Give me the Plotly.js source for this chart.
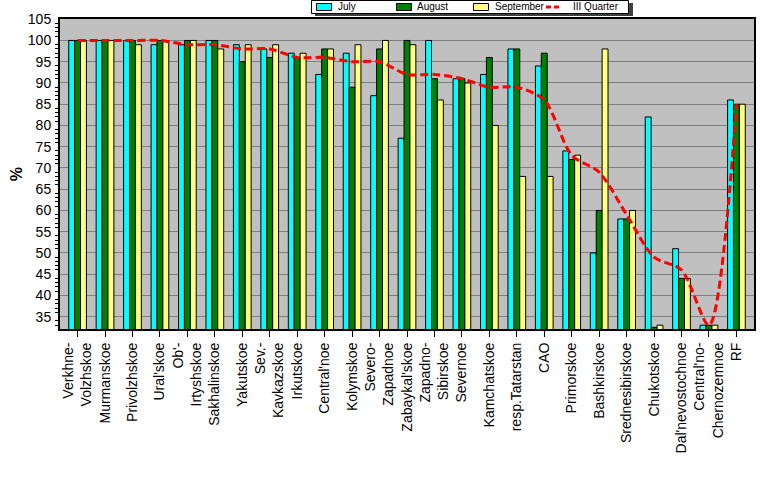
<!DOCTYPE html>
<html>
<head>
<meta charset="utf-8">
<script src="https://cdn.plot.ly/plotly-3.0.1.min.js"></script>
<style>html,body{margin:0;padding:0;background:#fff;}#chart{width:777px;height:479px;}</style>
</head>
<body>
<div id="chart"></div>
<script>
var categories = ["Verkhne-<br>Volzhskoe","Murmanskoe","Privolzhskoe","Ural'skoe","Ob'-<br>Irtyshskoe","Sakhalinskoe","Yakutskoe","Sev.-<br>Kavkazskoe","Irkutskoe","Central'noe","Kolymskoe","Severo-<br>Zapadnoe","Zabaykal'skoe","Zapadno-<br>Sibirskoe","Severnoe","Kamchatskoe","resp.Tatarstan","CAO","Primorskoe","Bashkirskoe","Srednesibirskoe","Chukotskoe","Dal'nevostochnoe","Central'no-<br>Chernozemnoe","RF"];
var july      = [100,100,100,99,99,100,99,98,97,92,97,87,77,100,91,92,98,94,74,50,58,82,51,33,86];
var august    = [100,100,100,100,100,100,95,96,96,98,89,98,100,91,91,96,98,97,72,60,58,32.5,44,33,85];
var september = [100,100,99,100,100,98,99,99,97,98,99,100,99,86,90,80,68,68,73,98,60,33,44,33,85];
var quarter   = [100,100,100,100,99,99,98,98,96,96,95,95,92,92,91,89,89,86,73,69,59,49,46,33,85];
var seriesNames = ["July","August","September","III Quarter"];

var xs = categories.map(function(c, i){ return i; });
var barLine = {color:'#000000', width:1};
var colors = ['#00FFFF','#008000','#FFFF80','#FF0000'];
var traces = [
  {type:'bar', name:seriesNames[0], x:xs, y:july, marker:{color:colors[0], line:barLine}},
  {type:'bar', name:seriesNames[1], x:xs, y:august, marker:{color:colors[1], line:barLine}},
  {type:'bar', name:seriesNames[2], x:xs, y:september, marker:{color:colors[2], line:barLine}},
  {type:'scatter', mode:'lines', name:seriesNames[3], x:xs, y:quarter,
   line:{color:colors[3], width:3, dash:'8px,4px', shape:'spline', smoothing:0.8}}
];

// plot area in pixels: left 60, right 754, top 19, bottom 329
function px(x){ return (x-60)/694; }
function py(y){ return (329-y)/310; }

// hand-drawn legend box (matches the original compact legend)
var shapes = [
  {type:'rect', xref:'paper', yref:'paper', layer:'above', x0:px(315), x1:px(633), y0:py(3), y1:py(16),
   fillcolor:'#404040', line:{width:0}},
  {type:'rect', xref:'paper', yref:'paper', layer:'above', x0:px(311.5), x1:px(628.5), y0:py(0.5), y1:py(13.5),
   fillcolor:'#FFFFFF', line:{color:'#000000', width:1}}
];
var annotations = [];
var symX = [316, 396, 473, 546];
var txtX = [336, 415, 493, 571];
for (var i = 0; i < 4; i++) {
  if (i < 3) {
    shapes.push({type:'rect', xref:'paper', yref:'paper', layer:'above',
      x0:px(symX[i]+0.5), x1:px(symX[i]+15.5), y0:py(3.5), y1:py(10.5),
      fillcolor:colors[i], line:{color:'#000000', width:1}});
  } else {
    shapes.push({type:'line', xref:'paper', yref:'paper', layer:'above',
      x0:px(symX[i]), x1:px(symX[i]+15), y0:py(7), y1:py(7),
      line:{color:colors[i], width:3, dash:'5px,3px'}});
  }
  annotations.push({xref:'paper', yref:'paper', x:px(txtX[i]), y:py(7), xanchor:'left', yanchor:'middle',
    text:seriesNames[i], showarrow:false, font:{size:10, color:'#000000'}});
}

var layout = {
  width:777, height:479,
  margin:{l:60, r:23, t:19, b:150},
  paper_bgcolor:'#FFFFFF', plot_bgcolor:'#C0C0C0',
  font:{family:'Arial, Liberation Sans, sans-serif', size:14, color:'#000000'},
  barmode:'group', bargap:0.355, bargroupgap:0,
  showlegend:false,
  shapes:shapes, annotations:annotations,
  xaxis:{type:'linear', range:[-0.64, 24.64], tickmode:'array', tickvals:xs, ticktext:categories,
         tickangle:-90, ticks:'outside', ticklen:6, tickcolor:'#000000', tickwidth:1,
         showgrid:false, zeroline:false, showline:true, linecolor:'#000000', linewidth:2, mirror:true,
         tickfont:{size:14}},
  yaxis:{range:[32.1, 105.05], tickmode:'linear', tick0:35, dtick:5, ticks:'',
         showgrid:true, gridcolor:'#808080', gridwidth:1, zeroline:false,
         showline:true, linecolor:'#000000', linewidth:2, mirror:true,
         tickfont:{size:14}, ticklabelstandoff:4,
         minor:{dtick:1, ticks:'outside', ticklen:3, tickcolor:'#000000', showgrid:false},
         title:{text:'<b>%</b>', font:{size:16}, standoff:1}}
};

Plotly.newPlot('chart', traces, layout, {displayModeBar:false, staticPlot:true});
</script>
</body>
</html>
